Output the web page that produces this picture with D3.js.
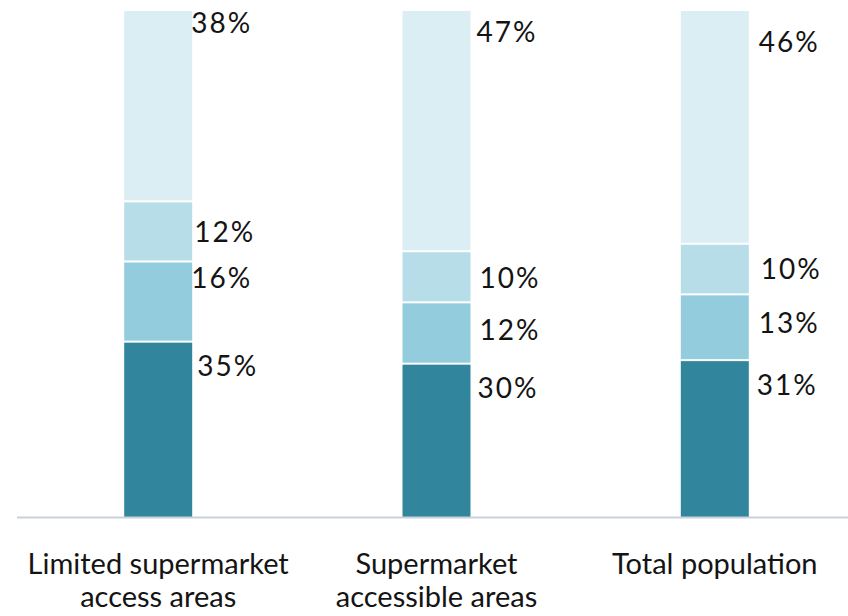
<!DOCTYPE html>
<html>
<head>
<meta charset="utf-8">
<script src="https://cdn.jsdelivr.net/npm/d3@7/dist/d3.min.js"></script>
<style>
  html, body { margin: 0; padding: 0; background: #ffffff; }
  svg { display: block; }
  text { font-family: Lato, "Open Sans", sans-serif; fill: #141414; }
</style>
</head>
<body>
<svg id="chart" width="848" height="616"></svg>
<script>
// Share of residents by group, per area type (percent, as labelled)
const categories = [
  ["Limited supermarket", "access areas"],
  ["Supermarket", "accessible areas"],
  ["Total population"]
];
const seriesKeys = ["s1", "s2", "s3", "s4"];
const s1 = [35, 30, 31];
const s2 = [16, 12, 13];
const s3 = [12, 10, 10];
const s4 = [38, 47, 46];

// Colours, bottom segment to top segment
const colors = ["#31859c", "#93cddd", "#b7dde8", "#daeef3"];

// Small per-label placement tweaks [dx, dy], per bar, bottom to top
const labelNudge = [
  [[5, -1], [-1, -8], [2, 6], [-1, -13]],
  [[7, -1], [9, 3], [9, 2], [6, -4]],
  [[8, 0], [10, 4], [12, 0], [10, 6]]
];

const svg = d3.select("#chart");
const W = 848, H = 616;
const plotTop = 11, plotBottom = 517;

const keys = categories.map(c => c.join(" "));
const rows = keys.map((k, i) => ({ key: k, s1: s1[i], s2: s2[i], s3: s3[i], s4: s4[i] }));

// 100% stacking: each bar fills the full height
const stack = d3.stack().keys(seriesKeys).offset(d3.stackOffsetExpand);
const layers = stack(rows);

const x = d3.scaleBand()
  .domain(keys)
  .range([19, 854])
  .paddingInner(0.7557)
  .paddingOuter(0.378);

const y = d3.scaleLinear().domain([0, 1]).range([plotBottom, plotTop]);

const gap = 1; // half of the white gap between segments

const g = svg.append("g");

layers.forEach((layer, li) => {
  g.selectAll(null)
    .data(layer)
    .enter()
    .append("rect")
    .attr("x", d => x(d.data.key))
    .attr("width", x.bandwidth())
    .attr("y", d => y(d[1]) + (li === layers.length - 1 ? 0 : gap))
    .attr("height", d => {
      const top = y(d[1]) + (li === layers.length - 1 ? 0 : gap);
      const bot = y(d[0]) - (li === 0 ? 0 : gap);
      return Math.max(0, bot - top);
    })
    .attr("fill", colors[li]);
});

// Axis line along the base
svg.append("line")
  .attr("x1", 17).attr("x2", W)
  .attr("y1", plotBottom + 0.5).attr("y2", plotBottom + 0.5)
  .attr("stroke", "#c9d2da")
  .attr("stroke-width", 2);

// Value labels to the right of each segment
const values = [s1, s2, s3, s4];
layers.forEach((layer, li) => {
  layer.forEach((d, bi) => {
    const [dx, dy] = labelNudge[bi][li];
    svg.append("text")
      .attr("x", x(d.data.key) + x.bandwidth() + dx)
      .attr("y", y(d[1]) + 35 + dy)
      .attr("font-size", 28)
      .attr("letter-spacing", 2)
      .text(values[li][bi] + "%");
  });
});

// Category labels
const xAxis = svg.append("g");
categories.forEach((lines, i) => {
  const t = xAxis.append("text")
    .attr("x", x(keys[i]) + x.bandwidth() / 2)
    .attr("y", 574)
    .attr("text-anchor", "middle")
    .attr("font-size", 29);
  lines.forEach((ln, j) => {
    t.append("tspan")
      .attr("x", x(keys[i]) + x.bandwidth() / 2)
      .attr("dy", j === 0 ? 0 : 33)
      .text(ln);
  });
});
</script>
</body>
</html>
